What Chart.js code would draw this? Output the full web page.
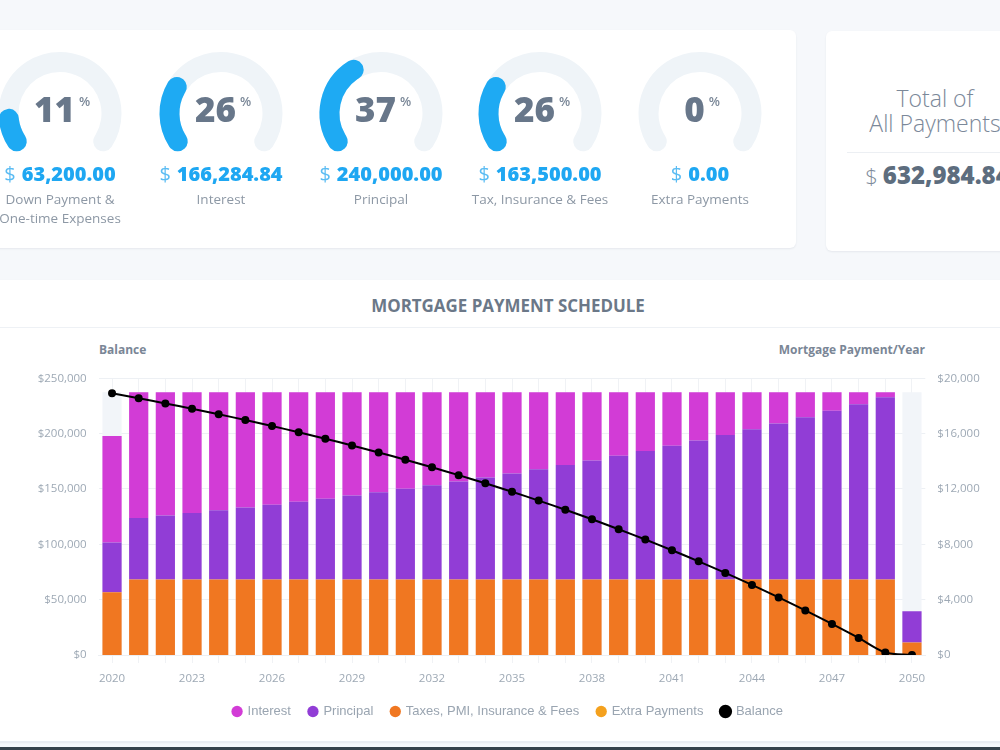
<!DOCTYPE html>
<html>
<head>
<meta charset="utf-8">
<script src="https://cdn.jsdelivr.net/npm/chart.js@4.4.1/dist/chart.umd.min.js"></script>
<style>
html,body{margin:0;padding:0;width:1000px;height:750px;overflow:hidden;background:#f6f8fb;font-family:'Open Sans',sans-serif;}
.card{position:absolute;background:#fff;border-radius:6px;box-shadow:0 1px 2px rgba(40,55,80,0.08);}
.abs{position:absolute;}
.pct{position:absolute;width:140px;text-align:center;color:#68778a;font-weight:800;font-size:35px;line-height:35px;white-space:nowrap;}
.pct .sup{font-size:13px;line-height:13px;font-weight:600;vertical-align:top;position:relative;top:4px;margin-left:4px;color:#7c8999;}
.amt{position:absolute;width:180px;text-align:center;font-size:20px;line-height:20px;white-space:nowrap;}
.amt .d{color:#5bbcf3;font-weight:400;margin-right:6px;}
.amt .n{color:#1ea7f2;font-weight:800;}
.lbl{position:absolute;width:180px;text-align:center;font-size:13.5px;line-height:19px;color:#8d98a5;white-space:nowrap;}
canvas{position:absolute;}
</style>
</head>
<body>
<div class="card" style="left:-20px;top:30px;width:816px;height:218px;"></div>
<div class="card" style="left:826px;top:31px;width:230px;height:220px;"></div>
<div class="card" style="left:-10px;top:280px;width:1020px;height:462px;border-radius:4px;"></div>
<div class="abs" style="left:0;top:327px;width:1000px;height:1px;background:#eef1f5;"></div>
<div class="abs" style="left:0;top:741px;width:1000px;height:1px;background:#e9edf2;"></div>
<div class="abs" style="left:0;top:747px;width:1000px;height:3px;background:#36424b;"></div>

<div id="gauges"></div>

<div class="abs" style="left:835px;top:85.6px;width:200px;text-align:center;font-size:23px;line-height:25px;font-weight:300;color:#7b8899;">Total of<br>All Payments</div>
<div class="abs" style="left:847px;top:152px;width:200px;height:1px;background:#eceff3;"></div>
<div class="abs" id="total" style="left:835px;top:162.5px;width:205px;text-align:center;font-size:24px;line-height:24px;white-space:nowrap;"><span style="color:#7d8a99;font-weight:300;font-size:22px;margin-right:5px;">$</span><span style="color:#5d6d7e;font-weight:800;" id="totalNum"></span></div>

<div class="abs" style="left:308px;top:296px;width:400px;text-align:center;font-size:18px;line-height:18px;font-weight:700;color:#6b7888;transform:scaleX(0.94);">MORTGAGE PAYMENT SCHEDULE</div>
<div class="abs" style="left:99px;top:343.6px;font-size:12px;line-height:12px;font-weight:700;color:#7a8696;">Balance</div>
<div class="abs" style="left:625px;top:343.6px;width:300px;text-align:right;font-size:12px;line-height:12px;font-weight:700;color:#7a8696;">Mortgage Payment/Year</div>

<canvas id="chart" width="1000" height="410" style="left:8px;top:330px;"></canvas>

<script>
// ---------- data ----------
const years = ['2020','2021','2022','2023','2024','2025','2026','2027','2028','2029','2030','2031','2032','2033','2034','2035','2036','2037','2038','2039','2040','2041','2042','2043','2044','2045','2046','2047','2048','2049','2050'];
const interest = [7698.2, 9082.3, 8906.3, 8723.5, 8533.3, 8335.8, 8130.3, 7916.9, 7694.9, 7464.3, 7224.5, 6975.2, 6716.2, 6446.9, 6167.1, 5875.9, 5573.8, 5259.3, 4932.6, 4592.9, 4239.4, 3873.4, 3491.5, 3095.0, 2682.8, 2254.6, 1809.0, 1346.3, 865.6, 365.3, 10.9];
const principal = [3587.5, 4460.5, 4636.5, 4819.3, 5009.5, 5207.0, 5412.5, 5625.9, 5847.9, 6078.5, 6318.3, 6567.6, 6826.6, 7095.9, 7375.7, 7666.9, 7969.0, 8283.5, 8610.2, 8949.9, 9303.4, 9669.4, 10051.3, 10447.8, 10860.0, 11288.2, 11733.8, 12196.5, 12677.2, 13177.5, 2246.2];
const taxes = [4541.67, 5450, 5450, 5450, 5450, 5450, 5450, 5450, 5450, 5450, 5450, 5450, 5450, 5450, 5450, 5450, 5450, 5450, 5450, 5450, 5450, 5450, 5450, 5450, 5450, 5450, 5450, 5450, 5450, 5450, 908.33];
const extraPayments = [0, 0, 0, 0, 0, 0, 0, 0, 0, 0, 0, 0, 0, 0, 0, 0, 0, 0, 0, 0, 0, 0, 0, 0, 0, 0, 0, 0, 0, 0, 0];
const balance = [236412.5, 231952.0, 227315.5, 222496.2, 217486.7, 212279.7, 206867.2, 201241.3, 195393.4, 189314.9, 182996.6, 176429.0, 169602.4, 162506.5, 155130.8, 147463.9, 139494.9, 131211.4, 122601.2, 113651.3, 104347.9, 94678.5, 84627.2, 74179.4, 63319.4, 52031.2, 40297.4, 28100.9, 15423.7, 2246.2, 0];
const fullYearPayment = 18992.83;

const gaugePercents = [11, 26, 37, 26, 0];
const gaugeAmounts = ['63,200.00', '166,284.84', '240,000.00', '163,500.00', '0.00'];
const gaugeLabels = [['Down Payment &', 'One-time Expenses'], ['Interest'], ['Principal'], ['Tax, Insurance & Fees'], ['Extra Payments']];
const totalPayments = '632,984.84';

// ---------- layout constants ----------
const gaugeCenters = [60, 221, 381, 540, 700];
const gaugeCY = 113.4;
const TRACK_SPAN = 268, BODY_SPAN = 246, CAP_SPAN = 22;

Chart.defaults.font.family = "'Open Sans', sans-serif";

document.getElementById('totalNum').textContent = totalPayments;

const gWrap = document.getElementById('gauges');
function gaugeChart(canvas, values, colors) {
  return new Chart(canvas, {
    type: 'doughnut',
    data: { datasets: [{ data: values, backgroundColor: colors, borderWidth: 0, borderRadius: 10, hoverOffset: 0 }] },
    options: {
      responsive: false, animation: false, events: [],
      rotation: -TRACK_SPAN / 2, circumference: TRACK_SPAN,
      radius: 61.5, cutout: '67.48%',
      plugins: { legend: { display: false }, tooltip: { enabled: false } }
    }
  });
}
gaugePercents.forEach((p, i) => {
  const cx = gaugeCenters[i];
  const c1 = document.createElement('canvas');
  c1.width = 140; c1.height = 140;
  c1.style.left = (cx - 70) + 'px'; c1.style.top = (gaugeCY - 79.4) + 'px';
  gWrap.appendChild(c1);
  gaugeChart(c1, [1], ['#eff4f8']);
  if (p > 0) {
    const c2 = document.createElement('canvas');
    c2.width = 140; c2.height = 140;
    c2.style.left = (cx - 70) + 'px'; c2.style.top = (gaugeCY - 79.4) + 'px';
    gWrap.appendChild(c2);
    const arc = p / 100 * BODY_SPAN + CAP_SPAN;
    gaugeChart(c2, [arc, TRACK_SPAN - arc], ['#1eaaf3', 'rgba(0,0,0,0)']);
  }
  const pd = document.createElement('div');
  pd.className = 'pct';
  pd.style.left = (cx - 70 + 2) + 'px'; pd.style.top = '91px';
  pd.innerHTML = '<span>' + p + '</span><span class="sup">%</span>';
  gWrap.appendChild(pd);
  const ad = document.createElement('div');
  ad.className = 'amt';
  ad.style.left = (cx - 90) + 'px'; ad.style.top = '164px';
  ad.innerHTML = '<span class="d">$</span><span class="n">' + gaugeAmounts[i] + '</span>';
  gWrap.appendChild(ad);
  const ld = document.createElement('div');
  ld.className = 'lbl';
  ld.style.left = (cx - 90) + 'px'; ld.style.top = '190px';
  ld.innerHTML = gaugeLabels[i].join('<br>');
  gWrap.appendChild(ld);
});

// ---------- main chart ----------
const tickColor = '#9ea9b5';
const tickFont = { family: "'Open Sans', sans-serif", size: 11.5 };
const legendRank = { 'Interest': 0, 'Principal': 1, 'Taxes, PMI, Insurance & Fees': 2, 'Extra Payments': 3, 'Balance': 4 };

new Chart(document.getElementById('chart'), {
  type: 'bar',
  data: {
    labels: years,
    datasets: [
      { label: 'Taxes, PMI, Insurance & Fees', data: taxes, backgroundColor: '#f07721', yAxisID: 'y2', stack: 'pay', order: 3 },
      { label: 'Principal', data: principal, backgroundColor: '#913dd6', yAxisID: 'y2', stack: 'pay', order: 3 },
      { label: 'Interest', data: interest, backgroundColor: '#d23cd6', yAxisID: 'y2', stack: 'pay', order: 3 },
      { label: 'Extra Payments', data: extraPayments, backgroundColor: '#f4a11e', yAxisID: 'y2', stack: 'pay', order: 3 },
      { type: 'line', label: 'Balance', data: balance, yAxisID: 'y', borderColor: '#000', backgroundColor: '#000',
        borderWidth: 2, pointRadius: 3, pointHoverRadius: 3, pointBackgroundColor: '#000', pointBorderColor: '#000',
        tension: 0.3, order: 0 },
      { label: '_bg', data: years.map(() => fullYearPayment), backgroundColor: '#f2f5f9', yAxisID: 'y2', stack: 'bg', order: 10 }
    ]
  },
  options: {
    responsive: false, animation: false, events: [],
    datasets: { bar: { grouped: false } },
    layout: { padding: { top: 48.3, bottom: 12, left: 0, right: 0 } },
    plugins: {
      tooltip: { enabled: false },
      legend: {
        position: 'bottom',
        labels: {
          usePointStyle: true, pointStyle: 'circle', boxWidth: 8, boxHeight: 8, padding: 18,
          color: '#9aa5b1', font: { family: "'Liberation Sans', Arial, sans-serif", size: 13 },
          filter: (item) => item.text !== '_bg',
          sort: (a, b) => legendRank[a.text] - legendRank[b.text]
        }
      }
    },
    scales: {
      x: {
        stacked: true,
        grid: { offset: false, color: '#f0f2f5', tickLength: 8, drawTicks: true },
        border: { color: '#eceff3' },
        ticks: {
          autoSkip: false, maxRotation: 0, padding: 9, color: tickColor, font: tickFont,
          callback: function (v, i) { return i % 3 === 0 ? this.getLabelForValue(v) : ''; }
        },
        afterFit: (s) => { s.height = 32; }
      },
      y: {
        position: 'left', min: 0, max: 250000,
        grid: { color: '#edf0f4', drawTicks: false },
        border: { display: false },
        ticks: { stepSize: 50000, padding: 12, color: tickColor, font: tickFont,
          callback: (v) => '$' + Number(v).toLocaleString('en-US') },
        afterFit: (s) => { s.width = 90.7; }
      },
      y2: {
        position: 'right', stacked: true, min: 0, max: 20000,
        grid: { display: false, drawTicks: false },
        border: { display: false },
        ticks: { stepSize: 4000, padding: 12, color: tickColor, font: tickFont,
          callback: (v) => '$' + Number(v).toLocaleString('en-US') },
        afterFit: (s) => { s.width = 82.7; }
      }
    }
  }
});
</script>
</body>
</html>
